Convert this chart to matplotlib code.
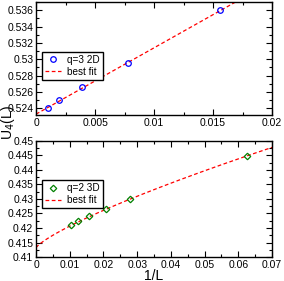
import numpy as np
import matplotlib
matplotlib.use('Agg')
import matplotlib.pyplot as plt
from matplotlib.ticker import MultipleLocator

plt.rcParams['font.family'] = ['Liberation Sans', 'DejaVu Sans']

# data q=3 2D
x2d = [1/1024, 1/512, 1/256, 1/128, 1/64]
u2d = [0.5241, 0.5250, 0.5266, 0.5296, 0.5360]
fit2d = [0.5233, 0.81]          # a + b*x

# data q=2 3D
x3d = [1/96, 1/80, 1/64, 1/48, 1/36, 1/16]
u3d = [0.4209, 0.4223, 0.4242, 0.4267, 0.4300, 0.4448]
fit3d = [0.4132, 0.280, 0.787]  # a + b*x**w

fig = plt.figure(figsize=(2.84, 2.81), dpi=100)
ax1 = fig.add_axes([0.127, 0.591, 0.831, 0.402])
ax2 = fig.add_axes([0.127, 0.085, 0.831, 0.414])

fs = 7.5
lfs = 7.2

xx = np.linspace(0, 0.02, 200)
ax1.plot(xx, fit2d[0] + fit2d[1]*xx, '--', color='red', lw=0.9, dashes=(3, 2), label='best fit')
ax1.plot(x2d, u2d, 'o', mfc='none', mec='blue', ms=4, mew=0.9, ls='none', label='q=3 2D')
ax1.set_xlim(0, 0.02)
ax1.set_ylim(0.5232, 0.537)
ax1.xaxis.set_major_locator(MultipleLocator(0.005))
ax1.xaxis.set_minor_locator(MultipleLocator(0.0025))
ax1.yaxis.set_major_locator(MultipleLocator(0.002))
ax1.yaxis.set_minor_locator(MultipleLocator(0.001))
ax1.set_xticks([0, 0.005, 0.01, 0.015, 0.02])
ax1.set_xticklabels(['0', '0.005', '0.01', '0.015', '0.02'])
ax1.set_yticks([0.524, 0.526, 0.528, 0.53, 0.532, 0.534, 0.536])
ax1.set_yticklabels(['0.524', '0.526', '0.528', '0.53', '0.532', '0.534', '0.536'])
h, l = ax1.get_legend_handles_labels()
ax1.legend(h[::-1], l[::-1], loc='upper left', bbox_to_anchor=(0.025, 0.56), fontsize=lfs,
           frameon=True, fancybox=False, edgecolor='black', framealpha=1,
           handlelength=1.6, borderpad=0.3, labelspacing=0.2, handletextpad=0.6, borderaxespad=0)

xx = np.linspace(0, 0.07, 400)
ax2.plot(xx, fit3d[0] + fit3d[1]*xx**fit3d[2], '--', color='red', lw=0.9, dashes=(3, 2), label='best fit')
ax2.plot(x3d, u3d, 'D', mfc='none', mec='green', ms=3.3, mew=0.9, ls='none', label='q=2 3D')
ax2.set_xlim(0, 0.07)
ax2.set_ylim(0.41, 0.45)
ax2.xaxis.set_major_locator(MultipleLocator(0.01))
ax2.xaxis.set_minor_locator(MultipleLocator(0.005))
ax2.yaxis.set_major_locator(MultipleLocator(0.005))
ax2.yaxis.set_minor_locator(MultipleLocator(0.0025))
ax2.set_xticks([0, 0.01, 0.02, 0.03, 0.04, 0.05, 0.06, 0.07])
ax2.set_xticklabels(['0', '0.01', '0.02', '0.03', '0.04', '0.05', '0.06', '0.07'])
ax2.set_yticks([0.41, 0.415, 0.42, 0.425, 0.43, 0.435, 0.44, 0.445, 0.45])
ax2.set_yticklabels(['0.41', '0.415', '0.42', '0.425', '0.43', '0.435', '0.44', '0.445', '0.45'])
h, l = ax2.get_legend_handles_labels()
ax2.legend(h[::-1], l[::-1], loc='upper left', bbox_to_anchor=(0.025, 0.66), fontsize=lfs,
           frameon=True, fancybox=False, edgecolor='black', framealpha=1,
           handlelength=1.6, borderpad=0.3, labelspacing=0.2, handletextpad=0.6, borderaxespad=0)
ax2.set_xlabel('1/L', fontsize=10, labelpad=-1)

for ax in (ax1, ax2):
    ax.tick_params(which='both', direction='in', top=True, right=True, labelsize=fs, width=0.8, pad=2)
    ax.tick_params(which='major', length=4)
    ax.tick_params(which='minor', length=2)
    for s in ax.spines.values():
        s.set_linewidth(1.0)

fig.text(0.028, 0.565, r'U$_4$(L)', rotation=90, fontsize=10, va='center', ha='center')

fig.savefig('out.png', dpi=100)
